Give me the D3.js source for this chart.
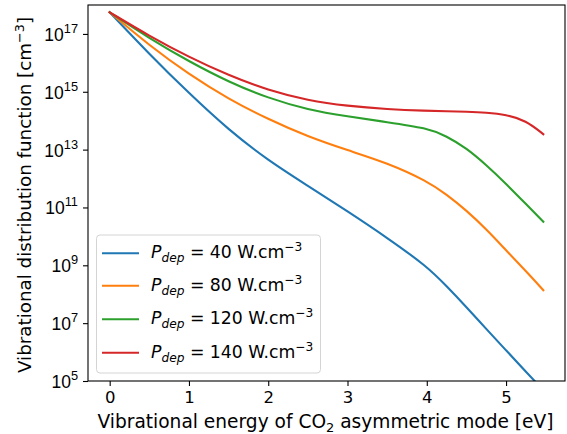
<!DOCTYPE html>
<html>
<head>
<meta charset="utf-8">
<script src="https://cdn.jsdelivr.net/npm/d3@7"></script>
<style>
  html, body { margin: 0; padding: 0; background: #fff; }
  svg { display: block; font-family: "DejaVu Sans", sans-serif; }
</style>
</head>
<body>
<svg id="chart" width="567" height="434"></svg>
<script>
// ---- data ----
const energy = [0, 0.5, 1, 1.5, 2, 2.5, 3, 3.5, 4, 4.25, 4.5, 4.75, 5, 5.25, 5.47];
const p40  = [5.6e17, 2.0e16, 8.9e14, 4.8e13, 4.2e12, 5.6e11, 7.4e10, 9.0e9, 9.3e8, 1.9e8, 3.6e7, 6.3e6, 1.15e6, 2.1e5, 4.8e4];
const p80  = [5.6e17, 4.0e16, 4.0e15, 5.6e14, 1.12e14, 2.8e13, 9.5e12, 3.5e12, 8.3e11, 2.8e11, 7.9e10, 1.78e10, 3.3e9, 6.3e8, 1.38e8];
const p120 = [5.6e17, 7.1e16, 1.12e16, 2.2e15, 6.0e14, 2.4e14, 1.4e14, 8.9e13, 5.6e13, 2.95e13, 1.12e13, 2.95e12, 6.6e11, 1.32e11, 3.2e10];
const p140 = [5.6e17, 8.5e16, 1.58e16, 3.7e15, 1.12e15, 5.0e14, 3.2e14, 2.5e14, 2.2e14, 2.14e14, 2.04e14, 1.9e14, 1.62e14, 1.02e14, 3.4e13];
const powers = ["40", "80", "120", "140"];
const colors = ["#1f77b4", "#ff7f0e", "#2ca02c", "#d62728"];
const xTicks = [0, 1, 2, 3, 4, 5];
const yTickExps = [5, 7, 9, 11, 13, 15, 17];

const seriesList = [p40, p80, p120, p140];

// ---- layout ----
const L = 88, R = 565, T = 5, B = 381;
const svg = d3.select("#chart");

const x = d3.scaleLinear().domain([-0.2735, 5.7435]).range([L, R]);
const y = d3.scaleLog().domain([1e5, 1e18]).range([B, T]);

svg.append("defs").append("clipPath").attr("id", "clip")
  .append("rect").attr("x", L).attr("y", T).attr("width", R - L).attr("height", B - T);

// lines
const line = d3.line()
  .x(d => x(d[0]))
  .y(d => y(d[1]))
  .curve(d3.curveBasis);

const g = svg.append("g").attr("clip-path", "url(#clip)");
seriesList.forEach((s, i) => {
  g.append("path")
    .datum(energy.map((e, j) => [e, s[j]]))
    .attr("d", line)
    .attr("fill", "none")
    .attr("stroke", colors[i])
    .attr("stroke-width", 2.1)
    .attr("stroke-linecap", "square");
});

// axes
const xAxis = d3.axisBottom(x).tickValues(xTicks).tickSize(5).tickPadding(5).tickFormat(d3.format("d"));
const gx = svg.append("g").attr("transform", `translate(0,${B})`).call(xAxis);
gx.select(".domain").remove();
gx.selectAll("text").attr("font-size", 16.5).attr("fill", "#000").attr("font-family", "DejaVu Sans");
gx.selectAll("line").attr("stroke", "#000").attr("stroke-width", 1.1);

const yAxis = d3.axisLeft(y).tickValues(yTickExps.map(e => Math.pow(10, e))).tickSize(5).tickPadding(5).tickFormat("");
const gy = svg.append("g").attr("transform", `translate(${L},0)`).call(yAxis);
gy.select(".domain").remove();
gy.selectAll("line").attr("stroke", "#000").attr("stroke-width", 1.1);
gy.selectAll(".tick").each(function(d) {
  const exp = Math.round(Math.log10(d));
  const t = d3.select(this).append("text")
    .attr("x", -10).attr("y", 6.5)
    .attr("text-anchor", "end")
    .attr("font-size", 17.5)
    .attr("fill", "#000");
  t.append("tspan").text("10");
  t.append("tspan").attr("dy", -8).attr("font-size", 12.8).text(exp);
});

// frame
svg.append("rect").attr("x", L).attr("y", T).attr("width", R - L).attr("height", B - T)
  .attr("fill", "none").attr("stroke", "#000").attr("stroke-width", 1.1);

// axis labels
const xl = svg.append("text").attr("x", (L + R) / 2 - 1).attr("y", 428)
  .attr("text-anchor", "middle").attr("font-size", 18.6).attr("fill", "#000");
xl.append("tspan").text("Vibrational energy of CO");
xl.append("tspan").attr("dy", 4).attr("font-size", 13).text("2");
xl.append("tspan").attr("dy", -4).text(" asymmetric mode [eV]");

const yl = svg.append("text")
  .attr("transform", `translate(31,${(T + B) / 2 + 2}) rotate(-90)`)
  .attr("text-anchor", "middle").attr("font-size", 18.3).attr("fill", "#000");
yl.append("tspan").text("Vibrational distribution function [cm");
yl.append("tspan").attr("dy", -7).attr("font-size", 12.8).text("\u22123");
yl.append("tspan").attr("dy", 7).text("]");

// legend
const lg = svg.append("g");
const lx = 96.5, ly = 235, lw = 224, lh = 138;
lg.append("rect").attr("x", lx).attr("y", ly).attr("width", lw).attr("height", lh)
  .attr("rx", 3.5).attr("fill", "#fff").attr("fill-opacity", 0.8)
  .attr("stroke", "#d4d4d4").attr("stroke-width", 1);
const rowY = [253.3, 285.8, 319.3, 352.7];
powers.forEach((p, i) => {
  lg.append("line").attr("x1", 102).attr("x2", 139)
    .attr("y1", rowY[i]).attr("y2", rowY[i])
    .attr("stroke", colors[i]).attr("stroke-width", 2.1);
  const t = lg.append("text").attr("x", 151).attr("y", rowY[i] + 5)
    .attr("font-size", 17.3).attr("fill", "#000");
  t.append("tspan").attr("font-style", "italic").text("P");
  t.append("tspan").attr("font-style", "italic").attr("font-size", 12.2).attr("dy", 4).text("dep");
  t.append("tspan").attr("dy", -4).text(" = " + p + " W.cm");
  t.append("tspan").attr("dy", -7).attr("font-size", 12.2).text("\u22123");
});
</script>
</body>
</html>
